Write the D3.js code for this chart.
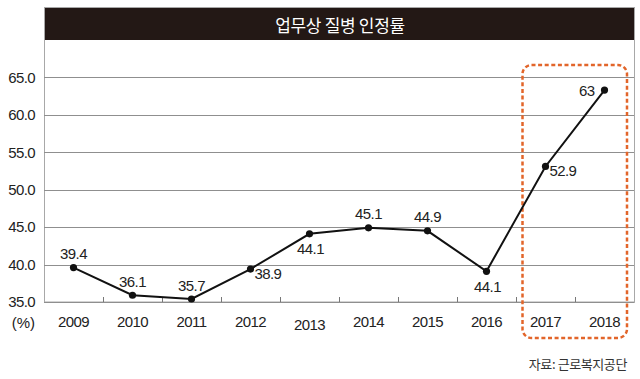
<!DOCTYPE html>
<html><head><meta charset="utf-8">
<script src="https://cdn.jsdelivr.net/npm/d3@7"></script>
<style>
html,body{margin:0;padding:0;background:#fff;}
svg{display:block;}
text{font-family:"Liberation Sans",Arial,sans-serif;}
</style></head>
<body>
<svg id="chart" width="640" height="379"></svg>
<script>
const title = "업무상 질병 인정률";
const source = "자료: 근로복지공단";
const years = ["2009","2010","2011","2012","2013","2014","2015","2016","2017","2018"];
const values = [39.6, 35.9, 35.4, 39.4, 44.1, 44.9, 44.5, 39.1, 53.1, 63.3];
const labels = ["39.4","36.1","35.7","38.9","44.1","45.1","44.9","44.1","52.9","63"];
const yTicks = [35, 40, 45, 50, 55, 60, 65];
const highlight = ["2017","2018"];

// label placement (style)
const labelPlace = ["above","above","above","right","below","above","above","below","right","left"];

(function () {
const svg = d3.select("#chart");
const pLeft = 44, pRight = 634, pTop = 77.3, pBottom = 302;

const x = d3.scaleBand().domain(years).range([pLeft, pRight]).padding(0);
const y = d3.scaleLinear().domain([35, 65]).range([pBottom, pTop]);
const cx = d => x(d) + x.bandwidth() / 2;

// frame
svg.append("rect").attr("x", pLeft + 0.5).attr("y", 7.5)
  .attr("width", pRight - pLeft).attr("height", pBottom - 7.5)
  .attr("fill", "none").attr("stroke", "#a8a8a8").attr("stroke-width", 1);

// title bar
svg.append("rect").attr("x", pLeft + 1).attr("y", 8)
  .attr("width", pRight - pLeft - 1).attr("height", 32).attr("fill", "#231815");
svg.append("text").attr("x", (pLeft + pRight) / 2 + 1).attr("y", 24)
  .attr("text-anchor", "middle").attr("dominant-baseline", "central")
  .style("font-family", "'Noto Sans CJK KR', sans-serif")
  .style("font-size", "17px").attr("fill", "#fff").attr("letter-spacing", "-0.3")
  .text(title);

// gridlines
svg.append("g").selectAll("line").data(yTicks).join("line")
  .attr("x1", pLeft).attr("x2", pRight)
  .attr("y1", d => Math.round(y(d)) + 0.5).attr("y2", d => Math.round(y(d)) + 0.5)
  .attr("stroke", "#8f8f8f").attr("stroke-width", 1);

// y axis labels
const yAxis = d3.axisLeft(y).tickValues(yTicks).tickFormat(d3.format(".1f")).tickSize(0).tickPadding(0);
const yg = svg.append("g").attr("transform", "translate(35,0)").call(yAxis);
yg.select(".domain").remove();
yg.selectAll("text").style("font-size", "15px").attr("fill", "#222").attr("letter-spacing", "-0.6")
  .attr("font-family", "'Liberation Sans', Arial, sans-serif");

svg.append("text").attr("x", 35).attr("y", 322).attr("text-anchor", "end")
  .attr("dominant-baseline", "central").style("font-size", "15px").attr("fill", "#222")
  .text("(%)");

// x axis
const xAxis = d3.axisBottom(x).tickSize(0).tickPadding(0);
const xg = svg.append("g").attr("transform", `translate(0,${pBottom})`).call(xAxis);
xg.select(".domain").attr("stroke", "#8f8f8f");
xg.selectAll("text").attr("y", 20)
  .style("font-size", "15px").attr("fill", "#222").attr("letter-spacing", "-0.6")
  .attr("font-family", "'Liberation Sans', Arial, sans-serif")
  .attr("dy", d => d === "2013" ? "0.55em" : "0.32em");

// tick marks between bands
svg.append("g").selectAll("line").data(years.slice(1)).join("line")
  .attr("x1", d => Math.round(x(d)) + 0.5).attr("x2", d => Math.round(x(d)) + 0.5)
  .attr("y1", pBottom - 5).attr("y2", pBottom)
  .attr("stroke", "#777").attr("stroke-width", 1);

// highlight dashed box
const hx0 = x(highlight[0]) + 6.5, hx1 = x(highlight[1]) + x.bandwidth() - 7;
svg.append("rect").attr("x", hx0).attr("y", 65).attr("width", hx1 - hx0).attr("height", 273)
  .attr("rx", 9).attr("ry", 9).attr("fill", "none")
  .attr("stroke", "#e2652a").attr("stroke-width", 2.5).attr("stroke-dasharray", "4,2.6");

// line
const pts = years.map((yr, i) => ({yr, v: values[i], lab: labels[i], place: labelPlace[i]}));
svg.append("path").datum(pts)
  .attr("d", d3.line().x(d => cx(d.yr)).y(d => y(d.v)))
  .attr("fill", "none").attr("stroke", "#111").attr("stroke-width", 2);
svg.append("g").selectAll("circle").data(pts).join("circle")
  .attr("cx", d => cx(d.yr)).attr("cy", d => y(d.v)).attr("r", 3.6).attr("fill", "#111");

// data labels
const off = {
  above: {dx: 0, dy: -14, a: "middle"},
  below: {dx: 1, dy: 15, a: "middle"},
  right: {dx: 4, dy: 4, a: "start"},
  left: {dx: -10, dy: 0, a: "end"}
};
svg.append("g").selectAll("text").data(pts).join("text")
  .attr("x", d => cx(d.yr) + off[d.place].dx)
  .attr("y", d => y(d.v) + off[d.place].dy)
  .attr("text-anchor", d => off[d.place].a)
  .attr("dominant-baseline", "central")
  .style("font-size", "15px").attr("fill", "#222").attr("letter-spacing", "-0.6")
  .text(d => d.lab);

// source
svg.append("text").attr("x", 627).attr("y", 363).attr("text-anchor", "end")
  .attr("dominant-baseline", "central")
  .style("font-family", "'Noto Sans CJK KR', sans-serif")
  .style("font-size", "13px").attr("fill", "#333").attr("letter-spacing", "-0.4")
  .text(source);
})();
</script>
</body></html>
